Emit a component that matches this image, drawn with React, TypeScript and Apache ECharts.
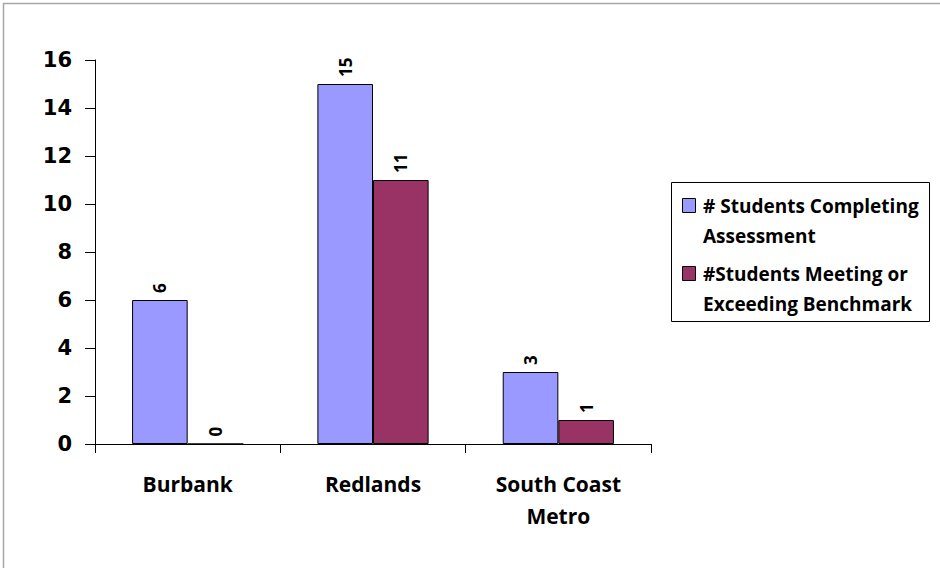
import React, { useEffect, useRef } from "react";
import * as echarts from "echarts";

const categories = ["Burbank", "Redlands", "South Coast\nMetro"];
const completing = [6, 15, 3];
const meeting = [0, 11, 1];
const seriesNames = ["# Students Completing Assessment", "#Students Meeting or Exceeding Benchmark"];
const legendLines = [
  ["# Students Completing", "Assessment"],
  ["#Students Meeting or", "Exceeding Benchmark"],
];
const colors = ["#9999FF", "#993366"];

const FONT = "'Open Sans', Lato, sans-serif";
const NUMFONT = "'DejaVu Sans', 'Open Sans', sans-serif";

export default function App() {
  const ref = useRef<HTMLDivElement>(null);
  useEffect(() => {
    if (!ref.current) return;
    const chart = echarts.init(ref.current, null, { renderer: "svg" });
    const dataLabel = {
      show: true,
      position: "top" as const,
      rotate: 90,
      align: "left" as const,
      verticalAlign: "middle" as const,
      distance: 7,
      fontFamily: FONT,
      fontWeight: "bold" as const,
      fontSize: 17,
      color: "#000",
    };
    const legendGraphics: any[] = [
      {
        type: "rect",
        shape: { x: 671.5, y: 182.5, width: 258, height: 139 },
        style: { fill: "#fff", stroke: "#000", lineWidth: 1 },
        silent: true,
      },
    ];
    legendLines.forEach((lines, i) => {
      const y0 = 206 + i * 68;
      legendGraphics.push({
        type: "rect",
        shape: { x: 682.5, y: y0 - 7.5, width: 13, height: 14 },
        style: { fill: colors[i], stroke: "#000", lineWidth: 1 },
        silent: true,
      });
      lines.forEach((t, j) => {
        legendGraphics.push({
          type: "text",
          x: 703,
          y: y0 + j * 30,
          style: {
            text: t,
            fontFamily: FONT,
            fontWeight: "bold",
            fontSize: 19,
            fill: "#000",
            verticalAlign: "middle",
            align: "left",
          },
          silent: true,
        });
      });
    });
    chart.setOption({
      animation: false,
      backgroundColor: "#fff",
      graphic: [
        {
          type: "rect",
          shape: { x: 3.5, y: 3.5, width: 960, height: 620 },
          style: { fill: "none", stroke: "#a6a6a6", lineWidth: 1.5 },
          silent: true,
        },
        ...legendGraphics,
      ],
      grid: { left: 95, top: 60, width: 556, height: 384, containLabel: false },
      legend: { show: false, data: seriesNames },
      xAxis: {
        type: "category",
        data: categories,
        axisLine: { lineStyle: { color: "#000", width: 1 } },
        axisTick: { show: true, length: 9, lineStyle: { color: "#000" } },
        axisLabel: {
          margin: 24,
          fontFamily: FONT,
          fontWeight: "bold",
          fontSize: 21,
          color: "#000",
          lineHeight: 32,
        },
      },
      yAxis: {
        type: "value",
        min: 0,
        max: 16,
        interval: 2,
        axisLine: { show: true, lineStyle: { color: "#000", width: 1 } },
        axisTick: { show: true, length: 10, lineStyle: { color: "#000" } },
        splitLine: { show: false },
        axisLabel: {
          margin: 23,
          fontFamily: NUMFONT,
          fontWeight: "bold",
          fontSize: 21,
          color: "#000",
        },
      },
      series: [
        {
          name: seriesNames[0],
          type: "bar",
          data: completing,
          barGap: "0%",
          barCategoryGap: "40%",
          itemStyle: { color: colors[0], borderColor: "#000", borderWidth: 1 },
          label: dataLabel,
        },
        {
          name: seriesNames[1],
          type: "bar",
          data: meeting,
          itemStyle: { color: colors[1], borderColor: "#000", borderWidth: 1 },
          label: dataLabel,
        },
      ],
    });
    return () => chart.dispose();
  }, []);
  return (
    <div
      ref={ref}
      style={{ position: "fixed", left: 0, top: 0, width: 940, height: 568 }}
    />
  );
}
